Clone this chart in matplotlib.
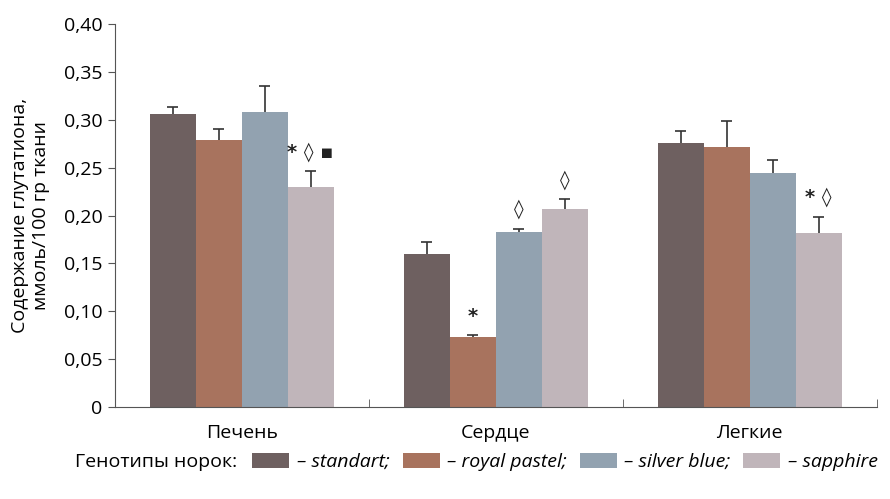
import numpy as np
import matplotlib.pyplot as plt
from matplotlib.patches import Patch

plt.rcParams['font.family'] = ['Open Sans', 'DejaVu Sans']

organs = ['Печень', 'Сердце', 'Легкие']
genotypes = ['standart', 'royal pastel', 'silver blue', 'sapphire']
colors = ['#6e6060', '#a8735e', '#92a2b0', '#c0b5ba']

# mean glutathione content, one list per genotype (Печень, Сердце, Легкие)
standart = [0.306, 0.160, 0.276]
royal_pastel = [0.279, 0.073, 0.272]
silver_blue = [0.308, 0.183, 0.244]
sapphire = [0.230, 0.207, 0.182]

standart_err = [0.007, 0.012, 0.012]
royal_pastel_err = [0.011, 0.002, 0.027]
silver_blue_err = [0.027, 0.003, 0.014]
sapphire_err = [0.016, 0.010, 0.017]

# significance marks: (organ index, genotype index, text)
marks = [(0, 3, '* ◊ ▪'), (1, 1, '*'), (1, 2, '◊'), (1, 3, '◊'), (2, 3, '* ◊')]

values = [standart, royal_pastel, silver_blue, sapphire]
errors = [standart_err, royal_pastel_err, silver_blue_err, sapphire_err]

fig = plt.figure(figsize=(8.9, 4.99), dpi=100)
ax = fig.add_axes([0.129, 0.184, 0.856, 0.768])

x = np.arange(len(organs))
w = 0.181
cap = 0.022
for i, (vals, errs, c) in enumerate(zip(values, errors, colors)):
    pos = x + (i - 1.5) * w
    vals = np.array(vals)
    tops = vals + np.array(errs)
    ax.bar(pos, vals, w, color=c, zorder=2)
    # upper half of the error bar only
    ax.vlines(pos, vals, tops, color='#333333', lw=1.2, zorder=3)
    ax.hlines(tops, pos - cap, pos + cap, color='#333333', lw=1.2, zorder=3)

for g, k, txt in marks:
    top = values[k][g] + errors[k][g]
    ax.text(x[g] + (k - 1.5) * w, top + 0.01, txt, ha='center', va='bottom',
            fontsize=14, fontweight='bold', color='#222222', family=['DejaVu Sans'])

ax.set_xlim(-0.5, 2.5)
ax.set_ylim(0, 0.40)
ax.set_yticks(np.arange(0, 0.41, 0.05))
ax.set_yticklabels(['0'] + [f'{v:.2f}'.replace('.', ',') for v in np.arange(0.05, 0.41, 0.05)])
ax.set_xticks(x)
ax.set_xticklabels(organs)
ax.set_xticks([-0.5, 0.5, 1.5, 2.5], minor=True)
ax.tick_params(axis='x', which='major', length=0, pad=12, labelsize=14)
ax.tick_params(axis='x', which='minor', direction='in', length=6, color='#555555')
ax.tick_params(axis='y', length=5, color='#555555', labelsize=14, pad=4)

for s in ['top', 'right']:
    ax.spines[s].set_visible(False)
for s in ['left', 'bottom']:
    ax.spines[s].set_color('#555555')

ax.set_ylabel('Содержание глутатиона,\nммоль/100 гр ткани', fontsize=14, labelpad=10)

handles = [Patch(facecolor=c) for c in colors]
labels = ['– standart;', '– royal pastel;', '– silver blue;', '– sapphire']
fig.text(0.084, 0.074, 'Генотипы норок:', fontsize=14, va='center')
fig.legend(handles, labels, ncol=4, frameon=False, loc='center left',
           bbox_to_anchor=(0.264, 0.074), handlelength=1.9, handleheight=0.85,
           handletextpad=0.4, columnspacing=0.65,
           prop={'style': 'italic', 'size': 14})

fig.savefig('out.png', dpi=100)
